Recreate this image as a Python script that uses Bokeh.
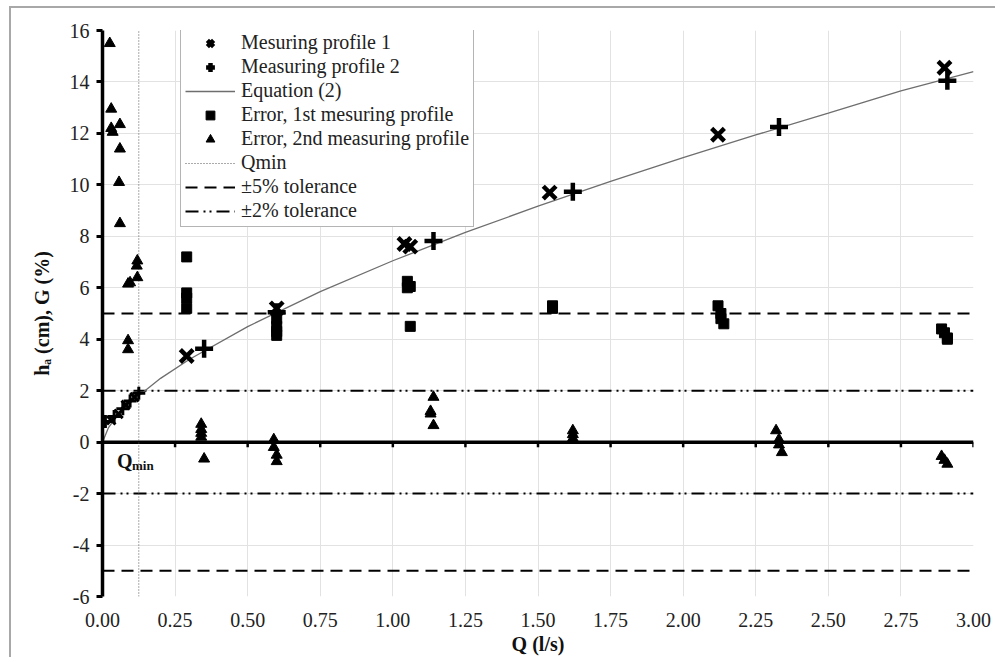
from bokeh.plotting import figure
from bokeh.models import Legend, LegendItem, Label, FixedTicker, Range1d
from bokeh.embed import file_html
from bokeh.resources import INLINE

# ---------------- data ----------------
x_ticks = [0.0, 0.25, 0.5, 0.75, 1.0, 1.25, 1.5, 1.75, 2.0, 2.25, 2.5, 2.75, 3.0]
x_tick_labels = ["0.00", "0.25", "0.50", "0.75", "1.00", "1.25", "1.50",
                 "1.75", "2.00", "2.25", "2.50", "2.75", "3.00"]
y_ticks = [-6, -4, -2, 0, 2, 4, 6, 8, 10, 12, 14, 16]
y_tick_labels = ["-6", "-4", "-2", "0", "2", "4", "6", "8", "10", "12", "14", "16"]

# Measuring profile 1 (x markers)
p1_q = [0.29, 0.60, 1.04, 1.06, 1.54, 2.12, 2.90]
p1_h = [3.35, 5.20, 7.70, 7.60, 9.70, 11.95, 14.55]
p1_low_q = [0.03, 0.055, 0.08, 0.11]
p1_low_h = [0.85, 1.10, 1.45, 1.75]

# Measuring profile 2 (+ markers)
p2_q = [0.35, 0.60, 1.14, 1.62, 2.33, 2.91]
p2_h = [3.63, 5.05, 7.82, 9.73, 12.25, 14.05]
p2_low_q = [0.01, 0.04, 0.07, 0.095, 0.125]
p2_low_h = [0.80, 1.00, 1.30, 1.60, 1.90]

# Equation (2) curve
eq_q = [0.0, 0.02, 0.05, 0.1, 0.2, 0.3, 0.5, 0.75, 1.0, 1.25, 1.5, 1.75,
        2.0, 2.25, 2.5, 2.75, 3.0]
eq_h = [0.0, 0.55, 1.01, 1.58, 2.48, 3.22, 4.49, 5.85, 7.05, 8.15, 9.17,
        10.14, 11.06, 11.94, 12.79, 13.65, 14.40]

# Error, 1st measuring profile (squares)
e1_q = [0.29, 0.29, 0.29, 0.29, 0.60, 0.60, 0.60, 0.60, 1.05, 1.05, 1.06, 1.06,
        1.55, 1.55, 2.12, 2.13, 2.13, 2.14, 2.89, 2.90, 2.91, 2.91]
e1_h = [7.2, 5.8, 5.6, 5.2, 4.8, 4.5, 4.3, 4.15, 6.25, 6.0, 6.05, 4.5,
        5.3, 5.2, 5.3, 5.0, 4.8, 4.6, 4.4, 4.25, 4.05, 4.0]

# Error, 2nd measuring profile (triangles)
e2_q = [0.025, 0.03, 0.03, 0.035, 0.06, 0.06, 0.057, 0.06, 0.12, 0.118, 0.12,
        0.088, 0.095, 0.088, 0.088,
        0.34, 0.34, 0.34, 0.34, 0.35,
        0.59, 0.59, 0.60, 0.60,
        1.14, 1.13, 1.13, 1.14,
        1.62, 1.62, 1.62,
        2.32, 2.33, 2.33, 2.34,
        2.89, 2.90, 2.91]
e2_h = [15.5, 12.95, 12.2, 12.05, 12.35, 11.4, 10.1, 8.5, 7.05, 6.85, 6.4,
        6.15, 6.2, 3.95, 3.6,
        0.7, 0.5, 0.35, 0.2, -0.65,
        0.1, -0.2, -0.5, -0.75,
        1.75, 1.2, 1.1, 0.65,
        0.45, 0.3, 0.15,
        0.45, 0.1, -0.1, -0.4,
        -0.55, -0.7, -0.85]

q_min = 0.125
tol5 = 5
tol2 = 2
x_range = (0.0, 3.0)
y_range = (-6, 16)

# ---------------- figure ----------------
FONT = "Liberation Serif"

p = figure(frame_width=871, frame_height=566,
           min_border_left=91, min_border_right=22, min_border_top=22,
           min_border_bottom=58,
           x_range=Range1d(*x_range), y_range=Range1d(*y_range),
           output_backend="svg", toolbar_location=None)
p.outline_line_color = None
p.background_fill_color = "white"
p.border_fill_color = "white"
p.styles = {"margin-left": "9px", "margin-top": "6px",
            "border-left": "2px solid #a8a8a8", "border-top": "2px solid #a8a8a8"}

# grid
p.xgrid.ticker = FixedTicker(ticks=x_ticks)
p.ygrid.ticker = FixedTicker(ticks=y_ticks)
p.grid.grid_line_color = "#e2e2e2"
p.grid.grid_line_width = 1

# x axis (labels only)
xa = p.xaxis[0]
xa.ticker = FixedTicker(ticks=x_ticks)
xa.major_label_overrides = {t: l for t, l in zip(x_ticks, x_tick_labels)}
xa.axis_line_color = None
xa.major_tick_line_color = None
xa.minor_tick_line_color = None
xa.major_label_text_font = FONT
xa.major_label_text_font_size = "20px"
xa.major_label_text_color = "#222222"
xa.major_label_standoff = 10
xa.axis_label = "Q (l/s)"
xa.axis_label_text_font = FONT
xa.axis_label_text_font_style = "bold"
xa.axis_label_text_font_size = "20px"
xa.axis_label_text_color = "#111111"
xa.axis_label_standoff = 3

# y axis
ya = p.yaxis[0]
ya.ticker = FixedTicker(ticks=y_ticks)
ya.major_label_overrides = {t: l for t, l in zip(y_ticks, y_tick_labels)}
ya.axis_line_width = 3.5
ya.axis_line_color = "black"
ya.major_tick_line_width = 3
ya.major_tick_line_color = "black"
ya.major_tick_out = 6
ya.major_tick_in = 0
ya.minor_tick_line_color = None
ya.major_label_text_font = FONT
ya.major_label_text_font_size = "20px"
ya.major_label_text_color = "#222222"
ya.major_label_standoff = 7
ya.axis_label = "h\u2090 (cm), G (%)"
ya.axis_label_text_font = FONT
ya.axis_label_text_font_style = "bold"
ya.axis_label_text_font_size = "20px"
ya.axis_label_text_color = "#111111"
ya.axis_label_standoff = 14

# zero line with small ticks
p.line(x=list(x_range), y=[0, 0], line_color="black", line_width=3.5)
p.segment(x0=x_ticks[1:], y0=[0] * (len(x_ticks) - 1), x1=x_ticks[1:],
          y1=[-0.2] * (len(x_ticks) - 1), line_color="black", line_width=2.5)

# tolerance lines
r_t5 = p.multi_line(xs=[list(x_range), list(x_range)], ys=[[tol5, tol5], [-tol5, -tol5]],
                    line_color="black", line_width=2, line_dash="12 7")
r_t2 = p.multi_line(xs=[list(x_range), list(x_range)], ys=[[tol2, tol2], [-tol2, -tol2]],
                    line_color="black", line_width=2, line_dash="13 5 2 4 2 5")
# Qmin
r_q = p.line(x=[q_min, q_min], y=list(y_range), line_color="#555555",
             line_width=1, line_dash="1 2")

# equation curve
r_eq = p.line(x=eq_q, y=eq_h, line_color="#6e6e6e", line_width=1.3)

# errors
r_e1 = p.scatter(x=e1_q, y=e1_h, marker="square", size=10, fill_color="black",
                 line_color="black")
r_e2 = p.scatter(x=e2_q, y=e2_h, marker="triangle", size=11, fill_color="black",
                 line_color="black")

# measuring profiles
r_p1 = p.scatter(x=p1_q, y=p1_h, marker="x", size=18, line_color="black",
                 line_width=4.5)
p.scatter(x=p1_low_q, y=p1_low_h, marker="x", size=12, line_color="black",
          line_width=3)
r_p2 = p.scatter(x=p2_q, y=p2_h, marker="cross", size=18, line_color="black",
                 line_width=4.5)
p.scatter(x=p2_low_q, y=p2_low_h, marker="cross", size=13, line_color="black",
          line_width=3)

# Qmin label
p.add_layout(Label(x=0.05, y=-0.3, text="Q", text_font=FONT,
                   text_font_style="bold", text_font_size="20px",
                   text_baseline="top", text_align="left", text_color="#111111"))
p.add_layout(Label(x=0.05, y=-0.3, x_offset=15, y_offset=-8, text="min",
                   text_font=FONT, text_font_style="bold",
                   text_font_size="13px", text_baseline="top", text_align="left",
                   text_color="#111111"))

legend = Legend(items=[
    LegendItem(label="Mesuring profile 1", renderers=[r_p1]),
    LegendItem(label="Measuring profile 2", renderers=[r_p2]),
    LegendItem(label="Equation (2)", renderers=[r_eq]),
    LegendItem(label="Error, 1st mesuring profile", renderers=[r_e1]),
    LegendItem(label="Error, 2nd measuring profile", renderers=[r_e2]),
    LegendItem(label="Qmin", renderers=[r_q]),
    LegendItem(label="\u00b15% tolerance", renderers=[r_t5]),
    LegendItem(label="\u00b12% tolerance", renderers=[r_t2]),
], location=(78, 369))
legend.label_text_font = FONT
legend.label_text_font_size = "20px"
legend.label_text_color = "#222222"
legend.glyph_width = 50
legend.glyph_height = 22
legend.label_height = 22
legend.label_standoff = 6
legend.spacing = 1
legend.padding = 4
legend.margin = 0
legend.border_line_color = "#6a6a6a"
legend.border_line_width = 1
legend.background_fill_alpha = 1
p.add_layout(legend)

open("out.html", "w").write(file_html(p, INLINE))
